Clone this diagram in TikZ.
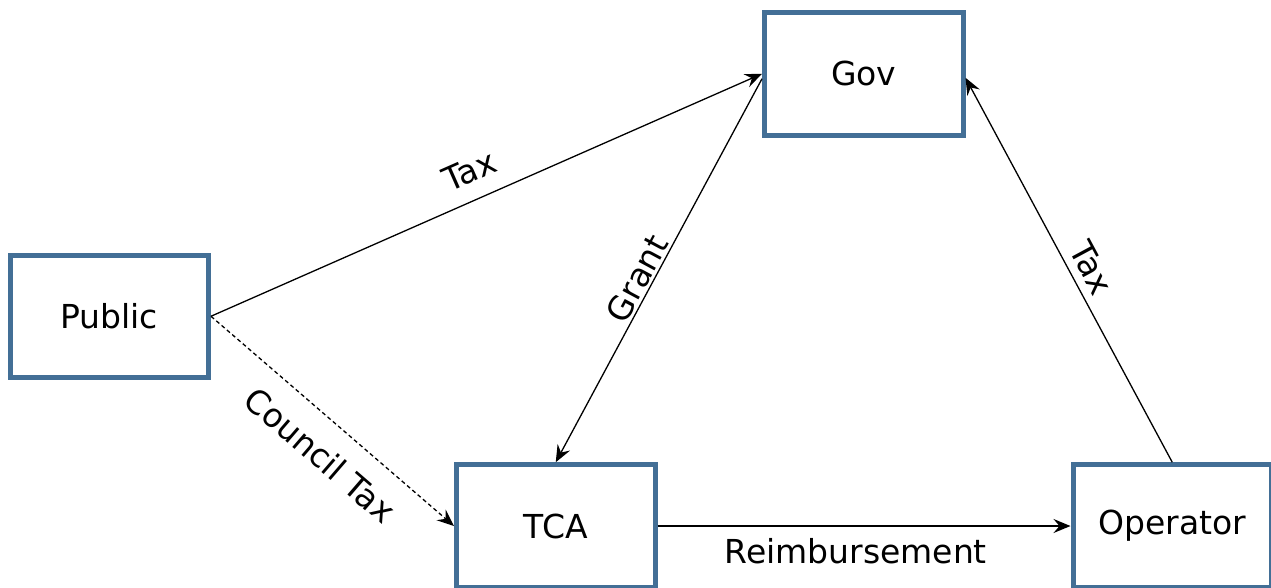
\documentclass[tikz,border=0pt]{standalone}
\usepackage{fontspec}
\setmainfont{DejaVu Sans}
\usetikzlibrary{arrows.meta}
\definecolor{boxblue}{RGB}{67,111,150}
\begin{document}
\begin{tikzpicture}[x=1pt,y=-1pt,
  box/.style={draw=boxblue,line width=5pt,fill=white,minimum width=198.5pt,minimum height=122.5pt,inner sep=0pt,font=\fontsize{33}{40}\selectfont},
  conn/.style={line width=1.3pt,-{Stealth[length=17pt,width=14pt,inset=6pt]}},
  lbl/.style={font=\fontsize{33}{40}\selectfont,inner sep=0pt,sloped}]
\clip (0,0) rectangle (1271,587);
\fill[white] (0,0) rectangle (1271,587);
\node[box] (Gov) at (863.75,73.75) {Gov};
\node[box] (Public) at (109.25,316.25) {Public};
\node[box] (TCA) at (555.75,526) {TCA};
\node[box] (Operator) at (1172.25,526) {Operator};
\draw[conn] (Public.east) -- node[lbl,pos=0.49,above=16pt]{Tax} (Gov.west);
\draw[conn,dash pattern=on 4pt off 3pt] (Public.east) -- node[lbl,pos=0.54,below=20pt]{Council Tax} (TCA.west);
\draw[conn] ([yshift=-5pt]Gov.west) -- node[lbl,pos=0.54,above=2pt]{Grant} (TCA.north);
\draw[conn] (Operator.north) -- node[lbl,pos=0.48,above=8pt]{Tax} ([yshift=-4pt]Gov.east);
\draw[conn] (TCA.east) -- node[lbl,pos=0.48,below=12pt]{Reimbursement} (Operator.west);
\end{tikzpicture}
\end{document}
